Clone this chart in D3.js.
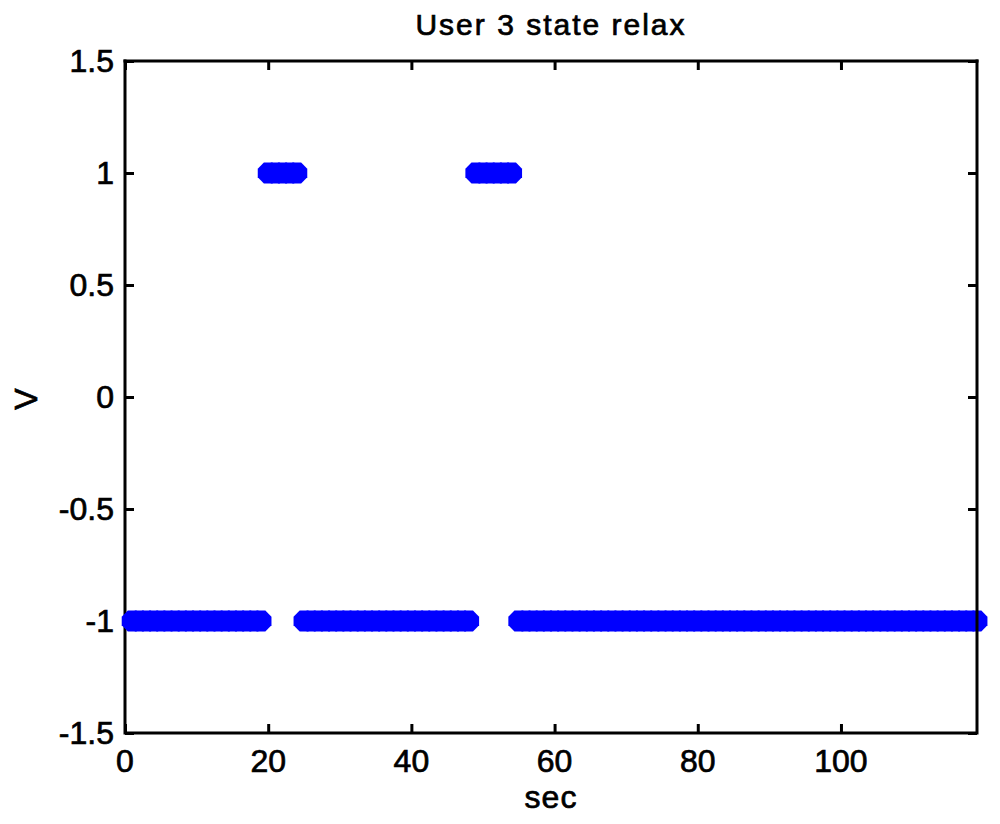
<!DOCTYPE html>
<html>
<head>
<meta charset="utf-8">
<script src="https://cdn.jsdelivr.net/npm/d3@7"></script>
<style>
  html, body { margin: 0; padding: 0; background: #fff; }
  svg { display: block; }
  text { font-family: "Liberation Sans", Arial, Helvetica, sans-serif; fill: #000; stroke: #000; stroke-width: 0.7px; }
</style>
</head>
<body>
<svg id="chart" width="1000" height="824"></svg>
<script>
// ---- data ----
const titleText = "User 3 state relax";
const xLabelText = "sec";
const yLabelText = "V";
const xTicks = [0, 20, 40, 60, 80, 100];
const yTicks = [-1.5, -1, -0.5, 0, 0.5, 1, 1.5];
const xDomain = [0, 119];
const yDomain = [-1.5, 1.5];
// sample times (s), one sample per second
const sampleTimes = d3.range(1, 120);
// state at each sample (1 = relax, -1 = not relax)
const states = [
  -1,-1,-1,-1,-1,-1,-1,-1,-1,-1,-1,-1,-1,-1,-1,-1,-1,-1,-1,   // 1-19
   1, 1, 1, 1, 1,                                              // 20-24
  -1,-1,-1,-1,-1,-1,-1,-1,-1,-1,-1,-1,-1,-1,-1,-1,-1,-1,-1,-1,-1,-1,-1,-1, // 25-48
   1, 1, 1, 1, 1, 1,                                           // 49-54
  -1,-1,-1,-1,-1,-1,-1,-1,-1,-1,-1,-1,-1,-1,-1,-1,-1,-1,-1,-1, // 55-74
  -1,-1,-1,-1,-1,-1,-1,-1,-1,-1,-1,-1,-1,-1,-1,-1,-1,-1,-1,-1, // 75-94
  -1,-1,-1,-1,-1,-1,-1,-1,-1,-1,-1,-1,-1,-1,-1,-1,-1,-1,-1,-1, // 95-114
  -1,-1,-1,-1,-1                                               // 115-119
];

// ---- layout ----
const mL = 125, mR = 977, mT = 61, mB = 733;
const svg = d3.select("#chart");

const x = d3.scaleLinear().domain(xDomain).range([mL, mR]);
const y = d3.scaleLinear().domain(yDomain).range([mB, mT]);

const tickLen = 9;
const fontSize = 32;

// bottom/left axis lines (behind markers)
const axisG = svg.append("g");
axisG.append("line").attr("x1", mL).attr("x2", mR).attr("y1", mB).attr("y2", mB)
  .attr("stroke", "#000").attr("stroke-width", 3);
axisG.append("line").attr("x1", mL).attr("x2", mL).attr("y1", mT).attr("y2", mB)
  .attr("stroke", "#000").attr("stroke-width", 3).attr("stroke-linecap", "square");

// ticks on all four sides (inward)
const xAxisB = d3.axisBottom(x).tickValues(xTicks).tickSize(-tickLen).tickFormat("");
const xAxisT = d3.axisTop(x).tickValues(xTicks).tickSize(-tickLen).tickFormat("");
const yAxisL = d3.axisLeft(y).tickValues(yTicks).tickSize(-tickLen).tickFormat("");
const yAxisR = d3.axisRight(y).tickValues(yTicks).tickSize(-tickLen).tickFormat("");

function styleAxis(g) {
  g.select(".domain").remove();
  g.selectAll(".tick line").attr("stroke", "#000").attr("stroke-width", 3);
}
svg.append("g").attr("transform", `translate(0,${mB})`).call(xAxisB).call(styleAxis);
svg.append("g").attr("transform", `translate(0,${mT})`).call(xAxisT).call(styleAxis);
svg.append("g").attr("transform", `translate(${mL},0)`).call(yAxisL).call(styleAxis);
svg.append("g").attr("transform", `translate(${mR},0)`).call(yAxisR).call(styleAxis);

// octagonal markers (MATLAB-like filled 'o')
const R = 11.3;
const octagon = d3.line()(d3.range(8).map(k => {
  const a = Math.PI / 8 + k * Math.PI / 4;
  return [R * Math.cos(a), R * Math.sin(a)];
})) + "Z";
const pts = sampleTimes.map((t, i) => ({ t, v: states[i] }));
svg.append("g").selectAll("path").data(pts).join("path")
  .attr("transform", d => `translate(${x(d.t)},${y(d.v)})`)
  .attr("d", octagon)
  .attr("fill", "#0000ff");

// top/right box lines (in front)
svg.append("line").attr("x1", mL).attr("x2", mR).attr("y1", mT).attr("y2", mT)
  .attr("stroke", "#000").attr("stroke-width", 3).attr("stroke-linecap", "square");
svg.append("line").attr("x1", mR).attr("x2", mR).attr("y1", mT).attr("y2", mB)
  .attr("stroke", "#000").attr("stroke-width", 3).attr("stroke-linecap", "square");

// tick labels
svg.append("g").selectAll("text").data(xTicks).join("text")
  .attr("x", d => x(d))
  .attr("y", 772)
  .attr("text-anchor", "middle")
  .attr("font-size", fontSize)
  .text(d => d);

svg.append("g").selectAll("text").data(yTicks).join("text")
  .attr("x", 114)
  .attr("y", d => y(d) + 11)
  .attr("text-anchor", "end")
  .attr("font-size", fontSize)
  .text(d => d);

// title
svg.append("text")
  .attr("x", 551).attr("y", 35)
  .attr("text-anchor", "middle")
  .attr("font-size", 30)
  .attr("letter-spacing", 2)
  .text(titleText);

// x label
svg.append("text")
  .attr("x", (mL + mR) / 2).attr("y", 808)
  .attr("text-anchor", "middle")
  .attr("font-size", fontSize)
  .attr("letter-spacing", 1)
  .text(xLabelText);

// y label
svg.append("text")
  .attr("transform", `translate(37,${(mT + mB) / 2 + 2}) rotate(-90)`)
  .attr("text-anchor", "middle")
  .attr("font-size", fontSize)
  .text(yLabelText);
</script>
</body>
</html>
